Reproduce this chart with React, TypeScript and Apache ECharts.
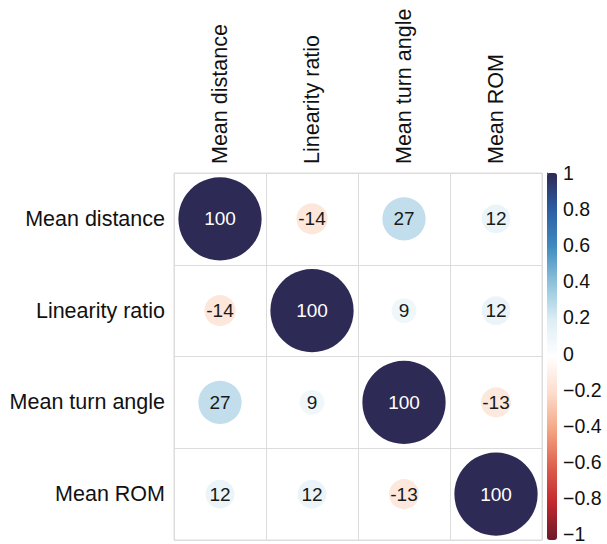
import React, { useEffect, useRef } from "react";
import * as echarts from "echarts";

// Variables of the correlation matrix (row order = column order)
const variables = ["Mean distance", "Linearity ratio", "Mean turn angle", "Mean ROM"];

// Pearson correlation coefficients, one row per variable
const corrMeanDistance = [1, -0.14, 0.27, 0.12];
const corrLinearityRatio = [-0.14, 1, 0.09, 0.12];
const corrMeanTurnAngle = [0.27, 0.09, 1, -0.13];
const corrMeanROM = [0.12, 0.12, -0.13, 1];

// Diverging red-blue palette from -1 to 1
const paletteStops = [
  "#6B1A2B", "#C2272F", "#DE604D", "#F3A584", "#FCDCCB", "#FFFFFF",
  "#DDEDF5", "#8FC3DC", "#3F8BC0", "#2C5EA2", "#2D2A55",
];

const colorbarTicks = [-1, -0.8, -0.6, -0.4, -0.2, 0, 0.2, 0.4, 0.6, 0.8, 1];

const FONT = "'Liberation Sans', Arial, Helvetica, sans-serif";

const GRID = { left: 174, top: 173, width: 368, height: 367 };
const CELL = GRID.width / variables.length;

export default function App() {
  const ref = useRef<HTMLDivElement>(null);

  useEffect(() => {
    if (!ref.current) return;
    const chart = echarts.init(ref.current, undefined, { renderer: "svg" });

    const matrix = [corrMeanDistance, corrLinearityRatio, corrMeanTurnAngle, corrMeanROM];
    const data: any[] = [];
    matrix.forEach((row, r) => {
      row.forEach((v, c) => {
        data.push({
          value: [c, r, v],
          label: { color: Math.abs(v) > 0.6 ? "#ffffff" : "#1a1a1a" },
        });
      });
    });

    chart.setOption({
      animation: false,
      backgroundColor: "#ffffff",
      grid: [
        {
          left: GRID.left,
          top: GRID.top,
          width: GRID.width,
          height: GRID.height,
          show: true,
          borderColor: "#dcdcdc",
          borderWidth: 1,
        },
        {
          left: 547,
          top: GRID.top,
          width: 10,
          height: GRID.height,
          show: false,
        },
      ],
      xAxis: [
        {
          gridIndex: 0,
          type: "category",
          data: variables,
          position: "top",
          boundaryGap: true,
          axisLine: { show: false },
          axisTick: { show: false },
          splitLine: { show: true, interval: 0, lineStyle: { color: "#dcdcdc", width: 1 } },
          axisLabel: {
            rotate: -90,
            interval: 0,
            margin: 9,
            padding: [0, 0, 8, 0],
            fontFamily: FONT,
            fontSize: 21.5,
            color: "#111111",
          },
        },
        {
          gridIndex: 1,
          type: "value",
          show: false,
        },
      ],
      yAxis: [
        {
          gridIndex: 0,
          type: "category",
          data: variables,
          inverse: true,
          boundaryGap: true,
          axisLine: { show: false },
          axisTick: { show: false },
          splitLine: { show: true, interval: 0, lineStyle: { color: "#dcdcdc", width: 1 } },
          axisLabel: {
            interval: 0,
            margin: 9,
            fontFamily: FONT,
            fontSize: 21.5,
            color: "#111111",
          },
        },
        {
          gridIndex: 1,
          type: "value",
          position: "right",
          min: -1,
          max: 1,
          interval: 0.2,
          axisLine: { show: true, lineStyle: { color: "#777777", width: 1 } },
          axisTick: { show: true, length: 3, lineStyle: { color: "#333333" } },
          splitLine: { show: false },
          axisLabel: {
            margin: 6,
            fontFamily: FONT,
            fontSize: 19.5,
            color: "#111111",
            customValues: colorbarTicks,
            formatter: (v: number) => {
              const s = String(Math.round(v * 10) / 10);
              return s.replace("-", "\u2212");
            },
          },
        },
      ],
      visualMap: {
        type: "continuous",
        min: -1,
        max: 1,
        dimension: 2,
        seriesIndex: 0,
        calculable: false,
        hoverLink: false,
        left: 547,
        top: GRID.top,
        itemWidth: 10,
        itemHeight: GRID.height,
        padding: 0,
        text: ["", ""],
        showLabel: false,
        inRange: { color: paletteStops },
      },
      series: [
        {
          type: "scatter",
          xAxisIndex: 0,
          yAxisIndex: 0,
          data,
          symbol: "circle",
          symbolSize: (val: number[]) => CELL * 0.905 * Math.sqrt(Math.abs(val[2])),
          label: {
            show: true,
            position: "inside",
            padding: [0, 0, 4, 0],
            fontFamily: FONT,
            fontSize: 19,
            formatter: (p: any) => String(Math.round(p.value[2] * 100)),
          },
          itemStyle: { opacity: 1 },
          emphasis: { disabled: true },
        },
      ],
    });

    return () => chart.dispose();
  }, []);

  return (
    <div
      ref={ref}
      style={{ position: "fixed", left: 0, top: 0, width: 607, height: 544, background: "#fff" }}
    />
  );
}
